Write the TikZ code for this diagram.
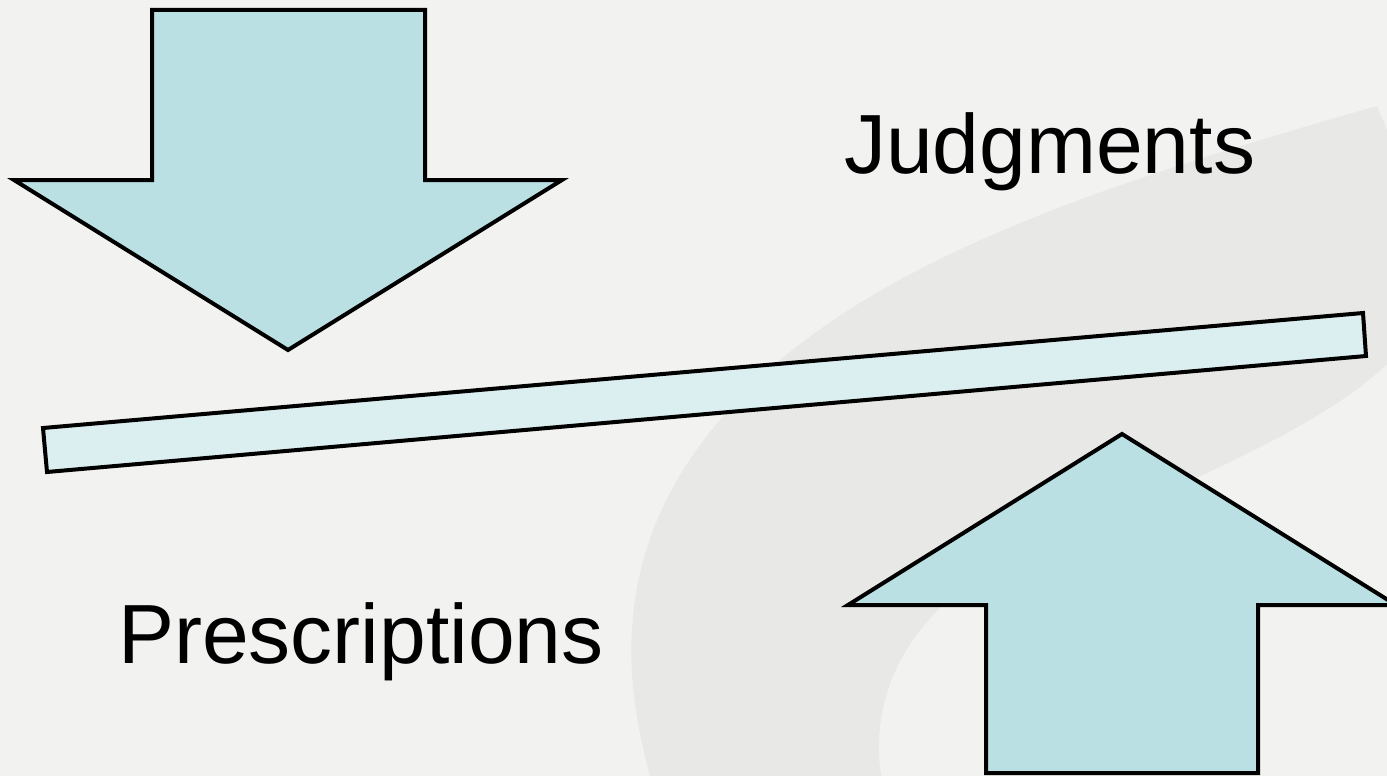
\documentclass[tikz,border=0pt]{standalone}
\usepackage{fontspec}
\setmainfont{Liberation Sans}
\definecolor{bgc}{HTML}{F2F2F0}
\definecolor{swc}{HTML}{E8E8E6}
\definecolor{arc}{HTML}{BBE0E3}
\definecolor{barc}{HTML}{DBEEF0}
\tikzset{
  bigarrow/.style={draw=black, fill=arc, line width=4pt, line join=miter},
  beam/.style={draw=black, fill=barc, line width=4pt, line join=miter},
  label/.style={inner sep=0pt, font=\fontsize{84}{100}\selectfont, text=black}
}
\begin{document}
\begin{tikzpicture}[x=1pt,y=-1pt]
\useasboundingbox (0,0) rectangle (1387,776);
\fill[bgc] (0,0) rectangle (1387,776);
% background swoosh
\begin{scope}
\clip (0,0) rectangle (1387,776);
\fill[swc] (1377,106) .. controls (1100,185) and (850,265) .. (720,420)
  .. controls (600,560) and (630,700) .. (650,776) -- (881,776)
  .. controls (870,700) and (900,600) .. (1050,540)
  .. controls (1200,480) and (1330,420) .. (1387,364) -- (1387,130) -- cycle;
\end{scope}
% down arrow
\draw[bigarrow] (152,10) -- (425,10) -- (425,180) -- (562,180) -- (288,350)
  -- (14,180) -- (152,180) -- cycle;
% beam
\draw[beam] (43,428) -- (1363,313) -- (1366,356) -- (47,472) -- cycle;
% up arrow
\begin{scope}
\clip (0,0) rectangle (1387,776);
\draw[bigarrow] (986,773) -- (1258,773) -- (1258,605) -- (1396,605) -- (1122,434)
  -- (848,605) -- (986,605) -- cycle;
\end{scope}
\node[label, anchor=base west] (judg) at (844,173) {Judgments};
\node[label, anchor=base west] (presc) at (118,663) {Prescriptions};
\end{tikzpicture}
\end{document}
